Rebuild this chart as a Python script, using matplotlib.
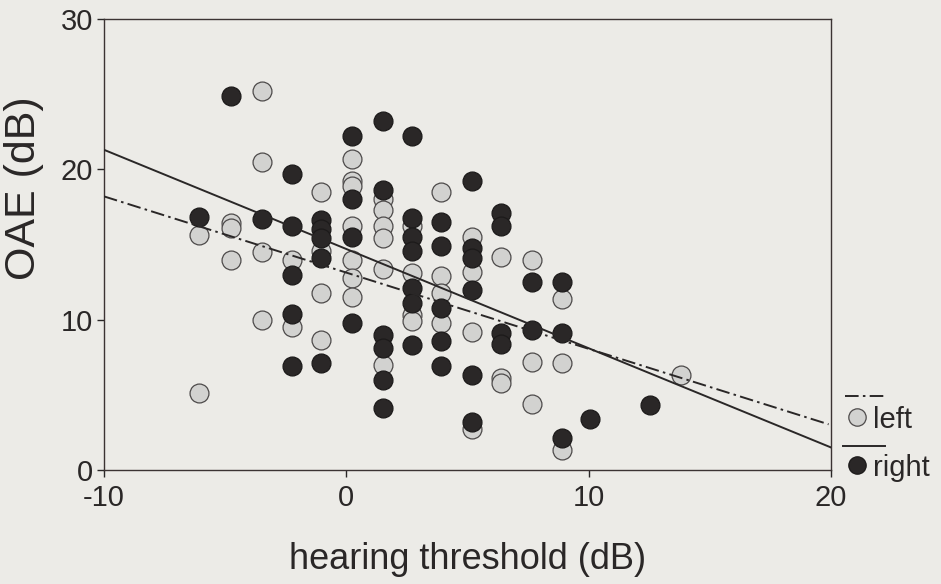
import numpy as np
import matplotlib
matplotlib.use("Agg")
import matplotlib.pyplot as plt
from matplotlib.lines import Line2D

plt.rcParams['font.family'] = ['Liberation Sans', 'DejaVu Sans']
plt.rcParams['axes.unicode_minus'] = False

# hearing threshold (dB) vs OAE level (dB), per ear
left_x = [-6.1, -6.1,
          -4.75, -4.75, -4.75,
          -3.5, -3.5, -3.5, -3.5,
          -2.25, -2.25,
          -1.05, -1.05, -1.05, -1.05,
          0.25, 0.25, 0.25, 0.25, 0.25, 0.25, 0.25,
          1.5, 1.5, 1.5, 1.5, 1.5, 1.5,
          2.7, 2.7, 2.7, 2.7,
          3.9, 3.9, 3.9, 3.9,
          5.2, 5.2, 5.2, 5.2,
          6.4, 6.4, 6.4,
          7.65, 7.65, 7.65,
          8.9, 8.9, 8.9,
          13.8]
left_y = [15.6, 5.15,
          16.4, 16.1, 14.0,
          25.2, 20.5, 14.5, 10.0,
          14.0, 9.5,
          18.5, 14.6, 11.75, 8.65,
          20.7, 19.2, 18.9, 16.2, 14.0, 12.8, 11.5,
          18.0, 17.3, 16.2, 15.4, 13.4, 7.0,
          16.2, 13.1, 10.3, 9.9,
          18.5, 12.9, 11.75, 9.75,
          15.5, 13.2, 9.2, 2.75,
          14.15, 6.1, 5.8,
          14.0, 7.2, 4.4,
          11.4, 7.1, 1.3,
          6.3]

right_x = [-6.1,
           -4.75,
           -3.5,
           -2.25, -2.25, -2.25, -2.25, -2.25,
           -1.05, -1.05, -1.05, -1.05, -1.05,
           0.25, 0.25, 0.25, 0.25,
           1.5, 1.5, 1.5, 1.5, 1.5, 1.5,
           2.7, 2.7, 2.7, 2.7, 2.7, 2.7, 2.7,
           3.9, 3.9, 3.9, 3.9, 3.9,
           5.2, 5.2, 5.2, 5.2, 5.2, 5.2,
           6.4, 6.4, 6.4, 6.4,
           7.65, 7.65,
           8.9, 8.9, 8.9,
           10.06,
           12.53]
right_y = [16.85,
           24.85,
           16.7,
           19.7, 16.25, 13.0, 10.4, 6.9,
           16.6, 16.0, 15.4, 14.1, 7.1,
           22.2, 18.0, 15.5, 9.8,
           23.2, 18.6, 9.0, 8.1, 6.0, 4.1,
           22.2, 16.75, 15.5, 14.6, 12.1, 11.1, 8.3,
           16.5, 14.9, 10.75, 8.6, 6.9,
           19.2, 14.75, 14.1, 12.0, 6.3, 3.2,
           17.1, 16.2, 9.1, 8.4,
           12.5, 9.3,
           12.5, 9.1, 2.1,
           3.4,
           4.3]

# regression lines: y = a + b*x
left_fit = (13.13, -0.507)
left_span = (-10, 19.9)
right_fit = (14.7, -0.66)
right_span = (-10, 20)

paper = '#ecebe7'
ink = '#2a2727'
grey_face = '#d2d2d0'
grey_edge = '#4d4a4a'
dashdot = (0, (7, 2.2, 1.3, 2.2))

fig = plt.figure(figsize=(9.41, 5.84), dpi=100, facecolor=paper)
ax = fig.add_axes([104 / 941, 1 - 470 / 584, 727 / 941, 451 / 584])
ax.set_facecolor(paper)

ax.scatter(left_x, left_y, s=185, facecolor=grey_face, edgecolor=grey_edge,
           linewidth=0.9, zorder=2)
ax.scatter(right_x, right_y, s=185, facecolor=ink, edgecolor='#1c1a1a',
           linewidth=0.9, zorder=3)

xs = np.array(left_span)
ax.plot(xs, left_fit[0] + left_fit[1] * xs, color=ink, lw=1.4,
        linestyle=dashdot, zorder=4)
xs = np.array(right_span)
ax.plot(xs, right_fit[0] + right_fit[1] * xs, color=ink, lw=1.4, zorder=4)

ax.set_xlim(-10, 20)
ax.set_ylim(0, 30)
ax.set_xticks([-10, 0, 10, 20])
ax.set_yticks([0, 10, 20, 30])
ax.tick_params(direction='out', length=5, width=1, colors=ink,
               labelsize=21)
ax.tick_params(axis='x', pad=5)
ax.tick_params(axis='y', pad=3)
for sp in ax.spines.values():
    sp.set_color('#3b3333')
    sp.set_linewidth(1.0)

ax.set_xlabel('hearing threshold (dB)', fontsize=26, color=ink)
ax.xaxis.set_label_coords(0.5, -0.16)
ax.set_ylabel('OAE (dB)', fontsize=31, color=ink)
ax.yaxis.set_label_coords(-0.083, 0.625)

# legend beside the right spine
def fpt(px, py):
    return px / 941, 1 - py / 584

x0, y0 = fpt(845, 396)
x1, _ = fpt(885, 396)
fig.add_artist(Line2D([x0, x1], [y0, y0], color=ink, lw=1.4,
                      linestyle=dashdot, transform=fig.transFigure))
mx, my = fpt(857, 417)
fig.add_artist(Line2D([mx], [my], marker='o', markersize=12.5,
                      markerfacecolor=grey_face, markeredgecolor=grey_edge,
                      markeredgewidth=0.9, transform=fig.transFigure))
tx, ty = fpt(873, 420)
fig.text(tx, ty, 'left', fontsize=21, color=ink, va='center', ha='left')

x0, y0 = fpt(843, 446)
fig.add_artist(Line2D([x0, x1], [y0, y0], color=ink, lw=1.4,
                      transform=fig.transFigure))
mx, my = fpt(857, 465)
fig.add_artist(Line2D([mx], [my], marker='o', markersize=12.5,
                      markerfacecolor=ink, markeredgecolor='#1c1a1a',
                      markeredgewidth=0.9, transform=fig.transFigure))
tx, ty = fpt(873, 468)
fig.text(tx, ty, 'right', fontsize=21, color=ink, va='center', ha='left')

fig.savefig('out.png', dpi=100, facecolor=paper)
